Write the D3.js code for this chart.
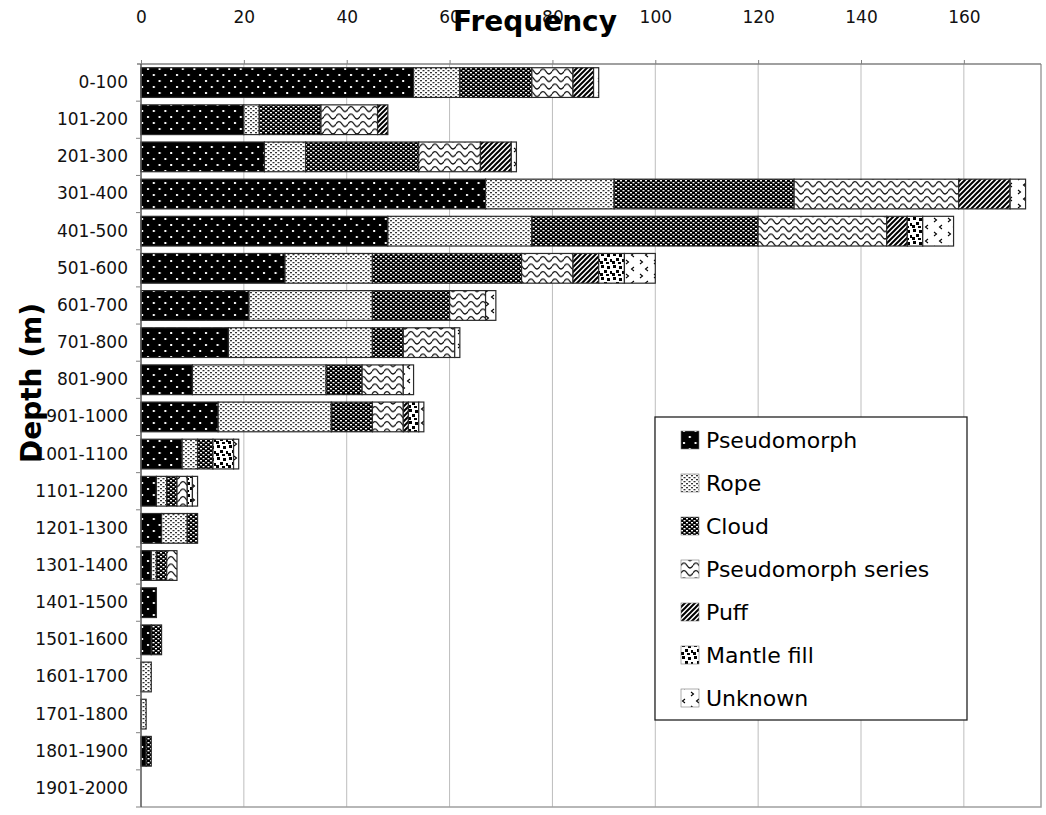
<!DOCTYPE html>
<html>
<head>
<meta charset="utf-8">
<script src="https://cdn.jsdelivr.net/npm/d3@7"></script>
<style>
  body { margin: 0; background: #fff; }
  text { font-family: "DejaVu Sans", Verdana, sans-serif; }
</style>
</head>
<body>
<script>
/* Depth vs frequency, stacked bars */

const depths = ["0-100", "101-200", "201-300", "301-400", "401-500", "501-600", "601-700",
  "701-800", "801-900", "901-1000", "1001-1100", "1101-1200", "1201-1300", "1301-1400",
  "1401-1500", "1501-1600", "1601-1700", "1701-1800", "1801-1900", "1901-2000"];

const seriesNames = ["Pseudomorph", "Rope", "Cloud", "Pseudomorph series", "Puff", "Mantle fill", "Unknown"];

const pseudomorph  = [53, 20, 24, 67, 48, 28, 21, 17, 10, 15, 8, 3, 4, 2, 3, 2, 0, 0, 1, 0];
const rope         = [9, 3, 8, 25, 28, 17, 24, 28, 26, 22, 3, 2, 5, 1, 0, 0, 2, 1, 0, 0];
const cloud        = [14, 12, 22, 35, 44, 29, 15, 6, 7, 8, 3, 2, 2, 2, 0, 2, 0, 0, 1, 0];
const pseudoSeries = [8, 11, 12, 32, 25, 10, 7, 10, 8, 6, 0, 2, 0, 2, 0, 0, 0, 0, 0, 0];
const puff         = [4, 2, 6, 10, 4, 5, 0, 0, 0, 1, 0, 0, 0, 0, 0, 0, 0, 0, 0, 0];
const mantleFill   = [0, 0, 0, 0, 3, 5, 0, 0, 0, 2, 4, 1, 0, 0, 0, 0, 0, 0, 0, 0];
const unknown      = [1, 0, 1, 3, 6, 6, 2, 1, 2, 1, 1, 1, 0, 0, 0, 0, 0, 0, 0, 0];

const xTicks = [0, 20, 40, 60, 80, 100, 120, 140, 160];

/* table for d3.stack */
const allSeries = [pseudomorph, rope, cloud, pseudoSeries, puff, mantleFill, unknown];
const table = depths.map((d, i) => {
  const row = { depth: d };
  seriesNames.forEach((s, j) => row[s] = allSeries[j][i]);
  return row;
});

/* Chart size */
const w = 1046, h = 815;
const plotLeft = 141, plotRight = 1041, plotTop = 64, plotBottom = 807;

const svg = d3.select("body").append("svg")
  .attr("width", w)
  .attr("height", h);

/* Patterns */
const defs = svg.append("defs");

function pattern(id, pw, ph, bg) {
  const p = defs.append("pattern")
    .attr("id", id)
    .attr("patternUnits", "userSpaceOnUse")
    .attr("width", pw)
    .attr("height", ph);
  p.append("rect").attr("width", pw).attr("height", ph).attr("fill", bg);
  return p;
}

// pseudomorph: black with sparse white dots
let p = pattern("p0", 11.6, 12, "#000");
p.append("rect").attr("x", 2).attr("y", 2).attr("width", 2).attr("height", 2).attr("fill", "#fff");
p.append("rect").attr("x", 7.8).attr("y", 8).attr("width", 2).attr("height", 2).attr("fill", "#fff");

// rope: white with small dark dashes
p = pattern("p1", 5, 4, "#fff");
p.append("rect").attr("x", 0).attr("y", 0).attr("width", 2).attr("height", 1.3).attr("fill", "#333");
p.append("rect").attr("x", 2.5).attr("y", 2).attr("width", 2).attr("height", 1.3).attr("fill", "#333");

// cloud: black with small white dashes
p = pattern("p2", 5, 4, "#000");
p.append("rect").attr("x", 0).attr("y", 0).attr("width", 2).attr("height", 1.4).attr("fill", "#fff");
p.append("rect").attr("x", 2.5).attr("y", 2).attr("width", 2).attr("height", 1.4).attr("fill", "#fff");

// pseudomorph series: waves
p = pattern("p3", 12, 7.5, "#fff");
p.append("path").attr("d", "M0,4 Q3,-1 6,4 T12,4")
  .attr("fill", "none").attr("stroke", "#000").attr("stroke-width", 1.3);

// puff: wide upward diagonals
p = pattern("p4", 5, 5, "#fff");
p.append("path").attr("d", "M-1,6 L6,-1 M-1,1 L1,-1 M4,6 L6,4")
  .attr("stroke", "#000").attr("stroke-width", 2);

// mantle fill: large confetti
p = pattern("p5", 12, 12, "#fff");
[[1, 1], [7, 2], [4, 6], [10, 7], [0, 9], [6, 10]].forEach(c =>
  p.append("rect").attr("x", c[0]).attr("y", c[1]).attr("width", 3).attr("height", 3).attr("fill", "#000"));

// unknown: small chevrons
p = pattern("p6", 14, 14, "#fff");
p.append("path").attr("d", "M4,1 L1.5,3 L4,5 M10,8 L12.5,10 L10,12")
  .attr("fill", "none").attr("stroke", "#000").attr("stroke-width", 1.1);

/* Scales */
const x = d3.scaleLinear().domain([0, 175]).range([plotLeft, plotRight]);
const y = d3.scaleBand().domain(depths).range([plotTop, plotBottom]).paddingInner(0.2).paddingOuter(0.1);

/* Grid */
svg.append("g").selectAll("line")
  .data(xTicks.slice(1))
  .enter().append("line")
  .attr("x1", d => x(d)).attr("x2", d => x(d))
  .attr("y1", plotTop).attr("y2", plotBottom)
  .attr("stroke", "#bdbdbd").attr("stroke-width", 1);

// plot border right / bottom
svg.append("path")
  .attr("d", `M${plotLeft},${plotBottom}H${plotRight}V${plotTop}`)
  .attr("fill", "none").attr("stroke", "#a0a0a0").attr("stroke-width", 1.5);

/* Bars */
const stacked = d3.stack().keys(seriesNames)(table);

svg.append("g").selectAll("g")
  .data(stacked)
  .enter().append("g")
  .attr("fill", (d, i) => "url(#p" + i + ")")
  .selectAll("rect")
  .data(d => d.filter(v => v[1] - v[0] > 0))
  .enter().append("rect")
  .attr("x", d => x(d[0]))
  .attr("y", d => y(d.data.depth))
  .attr("width", d => x(d[1]) - x(d[0]))
  .attr("height", y.bandwidth())
  .attr("stroke", "#2a2a2a")
  .attr("stroke-width", 1.2);

/* Top axis */
const xAxis = svg.append("g")
  .attr("transform", "translate(0," + plotTop + ")")
  .call(d3.axisTop(x).tickValues(xTicks).tickSize(4).tickPadding(37).tickSizeOuter(0));
xAxis.select(".domain").attr("stroke", "#808080").attr("stroke-width", 1.5)
  .attr("d", `M${plotLeft - 4},0H${plotRight}`);
xAxis.selectAll(".tick line").attr("stroke", "#808080");
xAxis.selectAll("text").attr("font-size", 17).attr("fill", "#111")
  .style("font-family", "'DejaVu Sans', Verdana, sans-serif");

/* Left axis */
const yAxis = svg.append("g")
  .attr("transform", "translate(" + plotLeft + ",0)")
  .call(d3.axisLeft(y).tickSize(0).tickPadding(13));
yAxis.select(".domain").attr("stroke", "#555").attr("stroke-width", 1.5)
  .attr("d", `M0,${plotTop}V${plotBottom}`);
yAxis.selectAll("text").attr("font-size", 17).attr("fill", "#111")
  .style("font-family", "'DejaVu Sans', Verdana, sans-serif");

// tick marks between categories
const step = y.step();
svg.append("g").selectAll("line")
  .data(depths)
  .enter().append("line")
  .attr("x1", plotLeft - 5).attr("x2", plotLeft)
  .attr("y1", d => y(d) - step * 0.1 + step)
  .attr("y2", d => y(d) - step * 0.1 + step)
  .attr("stroke", "#808080");

/* Axis titles */
svg.append("text")
  .attr("x", 535).attr("y", 31)
  .attr("text-anchor", "middle")
  .attr("font-size", 28).attr("font-weight", "bold")
  .text("Frequency");

svg.append("text")
  .attr("transform", "translate(41,383) rotate(-90)")
  .attr("text-anchor", "middle")
  .attr("font-size", 28).attr("font-weight", "bold")
  .text("Depth (m)");

/* Legend */
const legend = svg.append("g").attr("id", "legend");
legend.append("rect")
  .attr("x", 655).attr("y", 417).attr("width", 312).attr("height", 303)
  .attr("fill", "#fff").attr("stroke", "#222").attr("stroke-width", 1.3);

const items = legend.selectAll("g.item")
  .data(seriesNames)
  .enter().append("g")
  .attr("class", "item")
  .attr("transform", (d, i) => "translate(681," + (440 + i * 43) + ")");

items.append("rect")
  .attr("x", 0).attr("y", -9).attr("width", 18).attr("height", 18)
  .attr("fill", (d, i) => "url(#p" + i + ")")
  .attr("stroke", "#777").attr("stroke-width", 0.6);

items.append("text")
  .attr("x", 25).attr("y", 8)
  .attr("font-size", 22)
  .text(d => d);
</script>
</body>
</html>
